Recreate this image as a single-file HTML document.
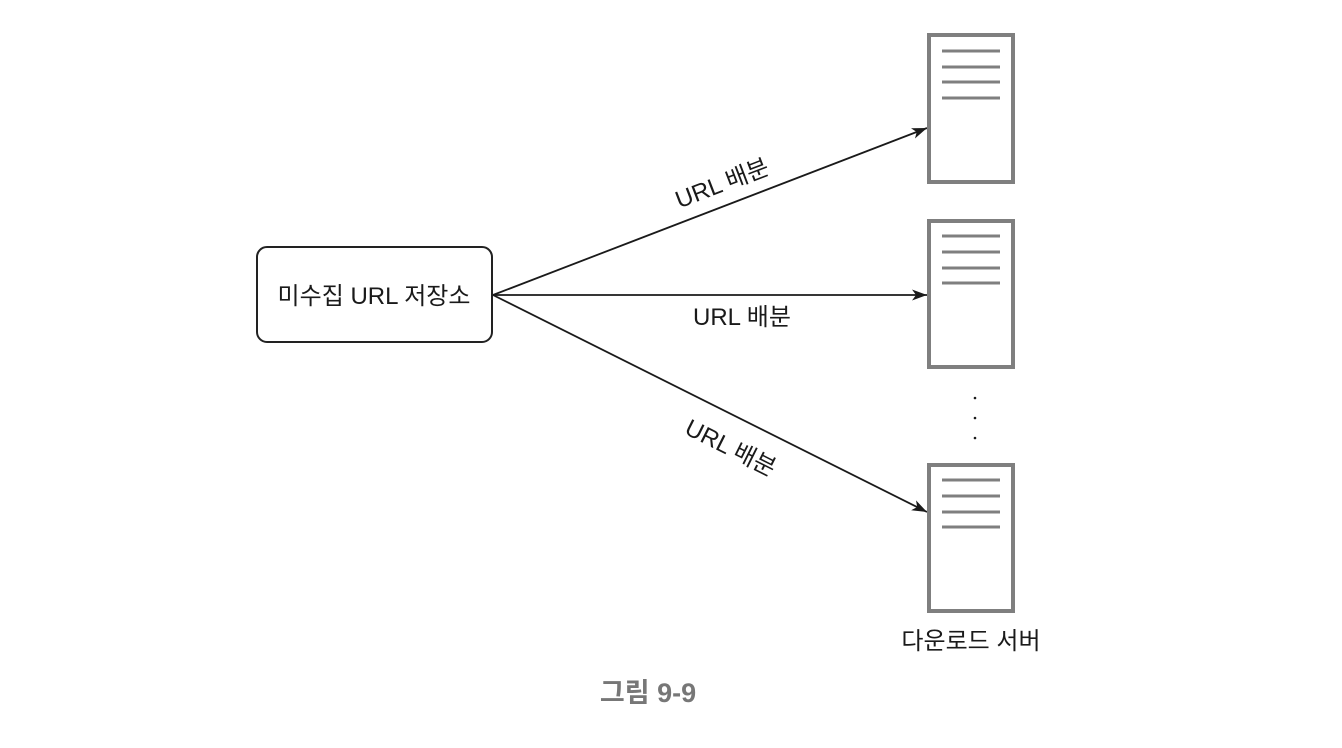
<!DOCTYPE html>
<html>
<head>
<meta charset="utf-8">
<style>
  html, body { margin: 0; padding: 0; background: #ffffff; }
  body { width: 1342px; height: 748px; overflow: hidden; }
  svg { display: block; }
  text { font-family: "Liberation Sans", "Noto Sans CJK KR", sans-serif; }
</style>
</head>
<body>
<svg width="1342" height="748" viewBox="0 0 1342 748" xmlns="http://www.w3.org/2000/svg">
  <defs>
    <marker id="arr" markerUnits="userSpaceOnUse" markerWidth="18" markerHeight="14" refX="15" refY="7" orient="auto">
      <path d="M0,1.5 L15,7 L0,12.5 L4,7 Z" fill="#1a1a1a"/>
    </marker>
  </defs>

  <!-- source box -->
  <rect x="257" y="247" width="235" height="95" rx="10" ry="10" fill="#ffffff" stroke="#222222" stroke-width="2"/>
  <text x="374" y="304" font-size="24" text-anchor="middle" fill="#1a1a1a">미수집 URL 저장소</text>

  <!-- arrows -->
  <line x1="493" y1="295" x2="927" y2="128" stroke="#1a1a1a" stroke-width="1.8" marker-end="url(#arr)"/>
  <line x1="493" y1="295" x2="927" y2="295" stroke="#1a1a1a" stroke-width="1.8" marker-end="url(#arr)"/>
  <line x1="493" y1="295" x2="927" y2="512" stroke="#1a1a1a" stroke-width="1.8" marker-end="url(#arr)"/>

  <!-- arrow labels -->
  <text x="0" y="0" font-size="24" text-anchor="middle" fill="#1a1a1a" transform="translate(725,191) rotate(-21)">URL 배분</text>
  <text x="742" y="325" font-size="24" text-anchor="middle" fill="#1a1a1a">URL 배분</text>
  <text x="0" y="0" font-size="24" text-anchor="middle" fill="#1a1a1a" transform="translate(727,455) rotate(26.6)">URL 배분</text>

  <!-- server 1 -->
  <rect x="929" y="35" width="84" height="147" fill="#ffffff" stroke="#7f7f7f" stroke-width="4"/>
  <g stroke="#7f7f7f" stroke-width="3">
    <line x1="942" y1="51" x2="1000" y2="51"/>
    <line x1="942" y1="67" x2="1000" y2="67"/>
    <line x1="942" y1="82" x2="1000" y2="82"/>
    <line x1="942" y1="98" x2="1000" y2="98"/>
  </g>

  <!-- server 2 -->
  <rect x="929" y="221" width="84" height="146" fill="#ffffff" stroke="#7f7f7f" stroke-width="4"/>
  <g stroke="#7f7f7f" stroke-width="3">
    <line x1="942" y1="236" x2="1000" y2="236"/>
    <line x1="942" y1="252" x2="1000" y2="252"/>
    <line x1="942" y1="268" x2="1000" y2="268"/>
    <line x1="942" y1="283" x2="1000" y2="283"/>
  </g>

  <!-- dots -->
  <circle cx="975" cy="398" r="1.3" fill="#1a1a1a"/>
  <circle cx="975" cy="418" r="1.3" fill="#1a1a1a"/>
  <circle cx="975" cy="438" r="1.3" fill="#1a1a1a"/>

  <!-- server 3 -->
  <rect x="929" y="465" width="84" height="146" fill="#ffffff" stroke="#7f7f7f" stroke-width="4"/>
  <g stroke="#7f7f7f" stroke-width="3">
    <line x1="942" y1="480" x2="1000" y2="480"/>
    <line x1="942" y1="496" x2="1000" y2="496"/>
    <line x1="942" y1="512" x2="1000" y2="512"/>
    <line x1="942" y1="527" x2="1000" y2="527"/>
  </g>

  <text x="971" y="649" font-size="24" text-anchor="middle" fill="#1a1a1a">다운로드 서버</text>

  <!-- caption -->
  <text x="648" y="702" font-size="27" font-weight="bold" text-anchor="middle" fill="#777777">그림 9-9</text>
</svg>
</body>
</html>
